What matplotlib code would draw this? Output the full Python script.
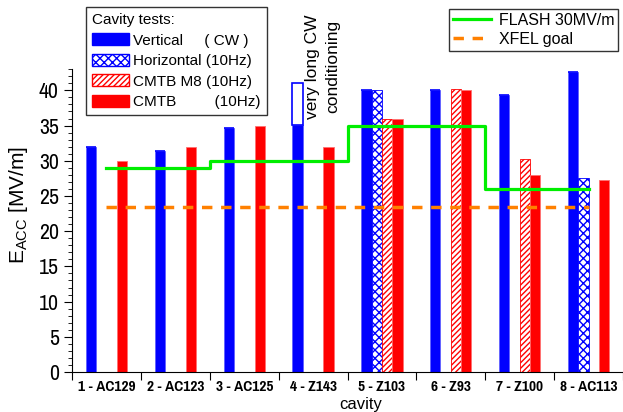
import numpy as np
import matplotlib.pyplot as plt
from matplotlib import font_manager as fm
from matplotlib.patches import Patch
from matplotlib.lines import Line2D

plt.rcParams['font.family'] = ['Liberation Sans', 'DejaVu Sans']
plt.rcParams['hatch.linewidth'] = 1.0

# look for a narrow sans font for the tick labels (reference uses a condensed face)
narrow_reg = narrow_bold = None
for f in fm.fontManager.ttflist:
    fn = f.fname.lower()
    if 'narrow' in fn and 'italic' not in fn:
        if 'bold' in fn:
            narrow_bold = f.fname
        else:
            narrow_reg = f.fname

cavities = ['1 - AC129', '2 - AC123', '3 - AC125', '4 - Z143',
            '5 - Z103', '6 - Z93', '7 - Z100', '8 - AC113']
vertical = [31.9, 31.4, 34.6, 35.1, 40.1, 40.1, 39.4, 42.6]
vertical_long_cw = [None, None, None, 41.1, None, None, None, None]
horizontal = [None, None, None, None, 40.1, None, None, 27.5]
cmtb_m8 = [None, None, None, None, 36.0, 40.2, 30.2, None]
cmtb = [30.0, 32.0, 35.0, 32.0, 36.0, 40.1, 28.0, 27.2]
flash = [29, 29, 30, 30, 35, 35, 26, 26]
xfel_goal = 23.5

x = np.arange(len(cavities))
w = 0.15

fig = plt.figure(figsize=(6.23, 4.12), dpi=100)
ax = fig.add_axes([0.1156, 0.097, 0.8844, 0.735])

def vals(lst):
    return [v if v is not None else 0 for v in lst]

# vertical (CW)
ax.bar(x - 1.5*w, vals(vertical), w, color='#0000ff', edgecolor='#6060ff', linewidth=0.6)
# long cw conditioning extension (open box)
ext = [v - b if v is not None else 0 for v, b in zip(vertical_long_cw, vertical)]
ax.bar(x - 1.5*w, ext, w, bottom=vertical, facecolor='white', edgecolor='#0000ff', linewidth=1.2)
# horizontal
ax.bar(x - 0.5*w, vals(horizontal), w, facecolor='white', edgecolor='#0000ff',
       hatch='xxxx', linewidth=0.6)
# CMTB M8
ax.bar(x + 0.5*w, vals(cmtb_m8), w, facecolor='white', edgecolor='#ff0000',
       hatch='//////', linewidth=0.6)
# CMTB
ax.bar(x + 1.5*w, cmtb, w, color='#ff0000', edgecolor='#ff7070', linewidth=0.6)

ax.step(x, flash, where='mid', color='#00ee00', lw=2.3, zorder=5)
ax.plot([x[0], x[-1]], [xfel_goal, xfel_goal], color='#ff8000', lw=2.5,
        ls=(0, (3, 2.5)), zorder=5)

ax.set_xlim(-0.5, 7.37)
ax.set_ylim(0, 43)
ax.spines['top'].set_visible(False)
ax.spines['right'].set_visible(False)

ax.set_xticks(np.arange(-0.5, 7.6, 1.0))
ax.set_xticklabels([])
ax.set_xticks(x, minor=True)
if narrow_bold:
    xfont = fm.FontProperties(fname=narrow_bold, size=12)
else:
    xfont = fm.FontProperties(family=['Liberation Sans', 'DejaVu Sans'], weight='bold', size=10.2)
ax.set_xticklabels(cavities, minor=True, fontproperties=xfont)
ax.tick_params(axis='x', which='minor', length=0, pad=6)
ax.tick_params(axis='x', which='major', length=6, direction='out')

ax.set_yticks(np.arange(0, 41, 5))
ax.set_yticks(np.arange(0, 44, 1), minor=True)
ax.tick_params(axis='y', which='major', length=6, labelsize=16)
ax.tick_params(axis='y', which='minor', length=3)
if narrow_reg:
    for t in ax.get_yticklabels():
        t.set_fontproperties(fm.FontProperties(fname=narrow_reg, size=17))

ax.set_xlabel('cavity', fontsize=12)
ax.xaxis.set_label_coords(0.524, -0.082)
ax.set_ylabel(r'E$_{\mathregular{ACC}}$ [MV/m]', fontsize=15)
ax.yaxis.set_label_coords(-0.077, 0.55)

ax.text(3.14, 36.0, 'very long CW\nconditioning', rotation=90, fontsize=12.5,
        ha='center', va='bottom', linespacing=1.4, clip_on=False)

handles1 = [
    Patch(facecolor='#0000ff', edgecolor='#0000ff'),
    Patch(facecolor='white', edgecolor='#0000ff', hatch='xxxx'),
    Patch(facecolor='white', edgecolor='#ff0000', hatch='//////'),
    Patch(facecolor='#ff0000', edgecolor='#ff0000'),
]
labels1 = ['Vertical     ( CW )', 'Horizontal (10Hz)', 'CMTB M8 (10Hz)', 'CMTB         (10Hz)']
leg1 = fig.legend(handles1, labels1, title='Cavity tests:', loc='upper left',
                  bbox_to_anchor=(86/623, 1 - 7/412), frameon=True, fancybox=False,
                  edgecolor='black', title_fontsize=11,
                  prop={'family': ['Liberation Sans', 'DejaVu Sans'], 'size': 11},
                  handlelength=2.4, handleheight=0.85, handletextpad=0.3,
                  borderpad=0.4, labelspacing=0.4, borderaxespad=0)
leg1._legend_box.align = 'left'
leg1.get_frame().set_linewidth(1.0)

handles2 = [Line2D([], [], color='#00ee00', lw=2.3),
            Line2D([], [], color='#ff8000', lw=2.5, ls=(0, (3, 2.5)))]
leg2 = fig.legend(handles2, ['FLASH 30MV/m', 'XFEL goal'], loc='upper left',
                  bbox_to_anchor=(449/623, 1 - 9/412), frameon=True, fancybox=False,
                  edgecolor='black', prop={'family': ['Liberation Sans', 'DejaVu Sans'], 'size': 11.5},
                  handlelength=2.4, handletextpad=0.45, borderpad=0.25,
                  labelspacing=0.25, borderaxespad=0)
leg2.get_frame().set_linewidth(1.0)

fig.savefig('out.png', dpi=100)
